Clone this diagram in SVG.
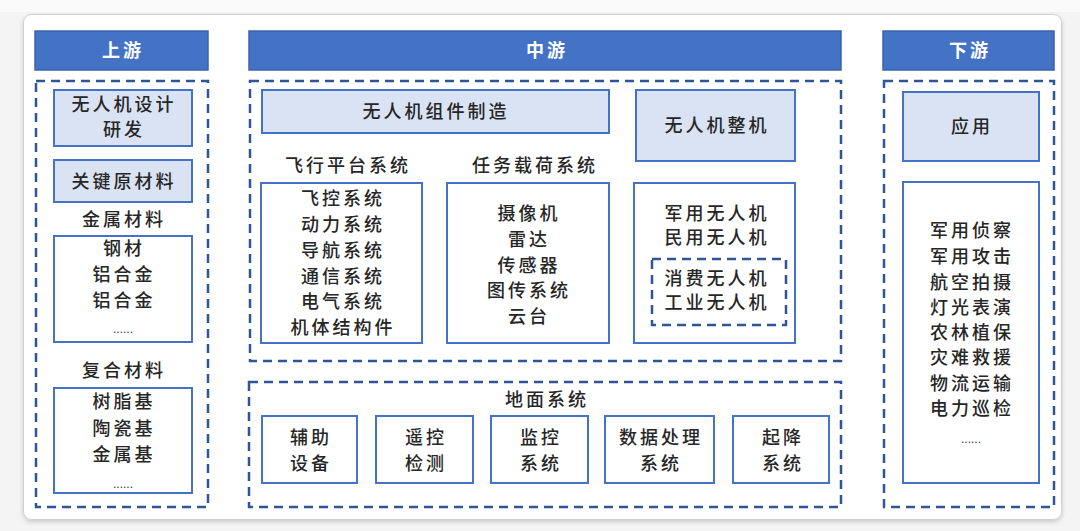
<svg xmlns="http://www.w3.org/2000/svg" width="1080" height="531" viewBox="0 0 1080 531">
<defs>
<style>
.t{font-family:"Noto Sans CJK SC","Liberation Serif",serif;font-size:18px;fill:#262626;text-anchor:middle;letter-spacing:3px;font-weight:500}
.h{font-family:"Noto Sans CJK SC","Liberation Sans",sans-serif;font-size:18px;fill:#ffffff;text-anchor:middle;letter-spacing:3px;font-weight:700}
.hdr{fill:#4472C4;stroke:#3A63AD;stroke-width:1.5}
.lb{fill:#DAE3F3;stroke:#4472C4;stroke-width:2}
.wb{fill:#ffffff;stroke:#4472C4;stroke-width:2}
.dash{fill:none;stroke:#2F5597;stroke-width:2.5;stroke-dasharray:9 6}
.dots{font-family:"Liberation Sans",sans-serif;font-size:12px;fill:#333;text-anchor:middle;letter-spacing:0}
</style>
<filter id="sh" x="-5%" y="-5%" width="110%" height="115%">
<feDropShadow dx="0" dy="2" stdDeviation="2" flood-color="#000" flood-opacity="0.18"/>
</filter>
</defs>
<rect x="0" y="0" width="1080" height="531" fill="#f4f4f4"/>
<rect x="0" y="0" width="1080" height="12" fill="#fafafa"/>
<rect id="card" x="23.5" y="14.5" width="1038" height="505" rx="8" fill="#ffffff" stroke="#cfcfcf" stroke-width="1" filter="url(#sh)"/>

<!-- headers -->
<g id="hdr-up"><rect class="hdr" x="35" y="31" width="173" height="39"/><text class="h" x="123" y="57">上游</text></g>
<g id="hdr-mid"><rect class="hdr" x="249" y="31" width="592" height="39"/><text class="h" x="547" y="57">中游</text></g>
<g id="hdr-down"><rect class="hdr" x="883" y="31" width="171" height="39"/><text class="h" x="970" y="57">下游</text></g>

<!-- upstream -->
<g id="up-frame"><rect class="dash" x="36" y="81" width="172" height="426"/></g>
<g id="up-design"><rect class="lb" x="54" y="90" width="138" height="56"/><text class="t" x="124" y="111">无人机设计</text><text class="t" x="124" y="136">研发</text></g>
<g id="up-material"><rect class="lb" x="54" y="160" width="138" height="42"/><text class="t" x="124" y="188">关键原材料</text></g>
<g id="up-metal"><text class="t" x="124" y="226">金属材料</text>
<rect class="wb" x="54" y="236" width="138" height="106"/>
<text class="t" x="124" y="255">钢材</text><text class="t" x="124" y="281">铝合金</text><text class="t" x="124" y="307">铝合金</text><text class="dots" x="123" y="333">......</text></g>
<g id="up-composite"><text class="t" x="124" y="377">复合材料</text>
<rect class="wb" x="54" y="388" width="138" height="105"/>
<text class="t" x="124" y="408">树脂基</text><text class="t" x="124" y="435">陶瓷基</text><text class="t" x="124" y="461">金属基</text><text class="dots" x="123" y="488">......</text></g>

<!-- midstream -->
<g id="mid-frame"><rect class="dash" x="250" y="81" width="591" height="280"/></g>
<g id="mid-component"><rect class="lb" x="262" y="90" width="347" height="43"/><text class="t" x="436" y="118">无人机组件制造</text></g>
<g id="mid-flight"><text class="t" x="348" y="172">飞行平台系统</text>
<rect class="wb" x="261" y="183" width="161" height="160"/>
<text class="t" x="343" y="205">飞控系统</text><text class="t" x="343" y="231">动力系统</text><text class="t" x="343" y="257">导航系统</text><text class="t" x="343" y="283">通信系统</text><text class="t" x="343" y="308">电气系统</text><text class="t" x="343" y="334">机体结构件</text></g>
<g id="mid-payload"><text class="t" x="535" y="172">任务载荷系统</text>
<rect class="wb" x="447" y="183" width="162" height="160"/>
<text class="t" x="529" y="220">摄像机</text><text class="t" x="529" y="246">雷达</text><text class="t" x="529" y="272">传感器</text><text class="t" x="529" y="297">图传系统</text><text class="t" x="529" y="323">云台</text></g>
<g id="mid-whole"><rect class="lb" x="636" y="90" width="159" height="71"/><text class="t" x="717" y="132">无人机整机</text></g>
<g id="mid-types"><rect class="wb" x="634" y="183" width="161" height="160"/>
<text class="t" x="717" y="220">军用无人机</text><text class="t" x="717" y="244">民用无人机</text>
<rect class="dash" x="652" y="259" width="134" height="66" stroke-width="2.2"/>
<text class="t" x="717" y="285">消费无人机</text><text class="t" x="717" y="309">工业无人机</text></g>
<g id="ground-frame"><rect class="dash" x="249" y="382" width="592" height="125"/><text class="t" x="547" y="406">地面系统</text></g>
<g id="g-aux"><rect class="wb" x="262" y="416" width="95" height="67"/><text class="t" x="311" y="444">辅助</text><text class="t" x="311" y="470">设备</text></g>
<g id="g-remote"><rect class="wb" x="376" y="416" width="97" height="67"/><text class="t" x="426" y="444">遥控</text><text class="t" x="426" y="470">检测</text></g>
<g id="g-monitor"><rect class="wb" x="491" y="416" width="97" height="67"/><text class="t" x="541" y="444">监控</text><text class="t" x="541" y="470">系统</text></g>
<g id="g-data"><rect class="wb" x="605" y="416" width="109" height="67"/><text class="t" x="661" y="444">数据处理</text><text class="t" x="661" y="470">系统</text></g>
<g id="g-takeoff"><rect class="wb" x="733" y="416" width="96" height="67"/><text class="t" x="783" y="444">起降</text><text class="t" x="783" y="470">系统</text></g>

<!-- downstream -->
<g id="down-frame"><rect class="dash" x="884" y="81" width="170" height="426"/></g>
<g id="down-app"><rect class="lb" x="903" y="92" width="136" height="69"/><text class="t" x="972" y="133">应用</text></g>
<g id="down-list"><rect class="wb" x="903" y="182" width="136" height="301"/>
<text class="t" x="972" y="237">军用侦察</text><text class="t" x="972" y="263">军用攻击</text><text class="t" x="972" y="289">航空拍摄</text><text class="t" x="972" y="314">灯光表演</text><text class="t" x="972" y="339">农林植保</text><text class="t" x="972" y="364">灾难救援</text><text class="t" x="972" y="390">物流运输</text><text class="t" x="972" y="415">电力巡检</text><text class="dots" x="971" y="443">......</text></g>
</svg>
